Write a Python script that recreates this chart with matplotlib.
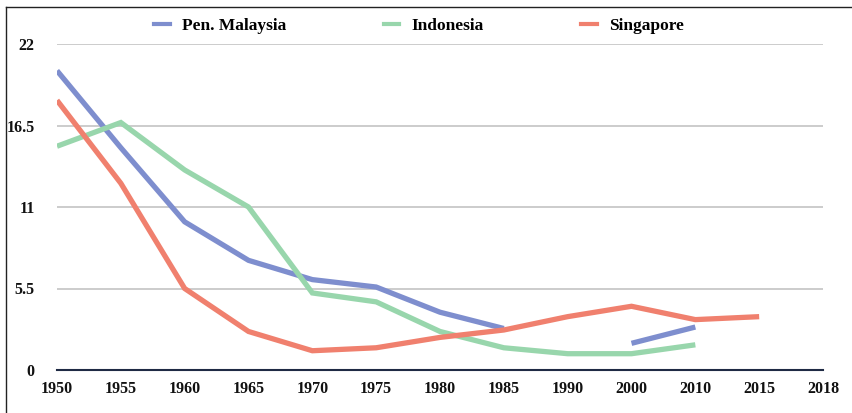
import numpy as np
import matplotlib
matplotlib.use("Agg")
import matplotlib.pyplot as plt
from matplotlib.lines import Line2D

categories = ["1950", "1955", "1960", "1965", "1970", "1975", "1980", "1985",
              "1990", "2000", "2010", "2015", "2018"]
nan = np.nan
malaysia = [20.2, 15.0, 10.0, 7.4, 6.1, 5.6, 3.9, 2.8, nan, 1.8, 2.9, nan, nan]
indonesia = [15.1, 16.7, 13.5, 11.0, 5.2, 4.6, 2.6, 1.5, 1.1, 1.1, 1.7, nan, nan]
singapore = [18.2, 12.6, 5.5, 2.6, 1.3, 1.5, 2.2, 2.7, 3.6, 4.3, 3.4, 3.6, nan]
yticks = [0, 5.5, 11, 16.5, 22]
ytick_labels = ["0", "5.5", "11", "16.5", "22"]

series = [("Pen. Malaysia", malaysia, "#7E8ECE"),
          ("Indonesia", indonesia, "#98D6AC"),
          ("Singapore", singapore, "#F0806E")]

plt.rcParams['font.family'] = ['Liberation Serif', 'DejaVu Serif']
plt.rcParams['font.weight'] = 'bold'

fig = plt.figure(figsize=(8.52, 4.13), dpi=100)
ax = fig.add_axes([57/852, 1-370/413, (823-57)/852, (370-44)/413])

x = np.arange(len(categories))
for name, vals, col in series:
    ax.plot(x, vals, color=col, lw=3.8, solid_capstyle='butt',
            solid_joinstyle='miter', label=name, zorder=3)

ax.set_xlim(0, len(categories) - 1)
ax.set_ylim(0, 22)
ax.set_yticks(yticks)
ax.set_yticklabels(ytick_labels)
ax.set_xticks(x)
ax.set_xticklabels(categories)
for t in yticks[1:]:
    ax.axhline(t, color="#CCCCCC", lw=1.4, zorder=1)
ax.axhline(0, color="#1F2A44", lw=1.5, zorder=4, clip_on=False)
for s in ax.spines.values():
    s.set_visible(False)
ax.tick_params(axis='both', length=0, labelsize=11.5, colors='#111111')
ax.tick_params(axis='y', pad=16)
ax.tick_params(axis='x', pad=8)
for lab in ax.get_xticklabels() + ax.get_yticklabels():
    lab.set_fontweight('bold')

handles = [Line2D([0], [0], color=c, lw=3) for _, _, c in series]
leg = fig.legend(handles, [n for n, _, _ in series], loc='center',
                 bbox_to_anchor=(419/852, 1-25.5/413), ncol=3, frameon=False,
                 prop={'family': 'Liberation Serif', 'weight': 'bold', 'size': 12.5},
                 handlelength=0.9, handletextpad=0.7, columnspacing=5.6,
                 borderaxespad=0, borderpad=0)

# frame lines (left and top) of the screenshot
fig.add_artist(Line2D([6/852, 6/852], [0, 1-7/413], color='#222222', lw=1,
                      transform=fig.transFigure))
fig.add_artist(Line2D([6/852, 1], [1-7/413, 1-7/413], color='#222222', lw=1,
                      transform=fig.transFigure))

fig.savefig("out.png", dpi=100)
